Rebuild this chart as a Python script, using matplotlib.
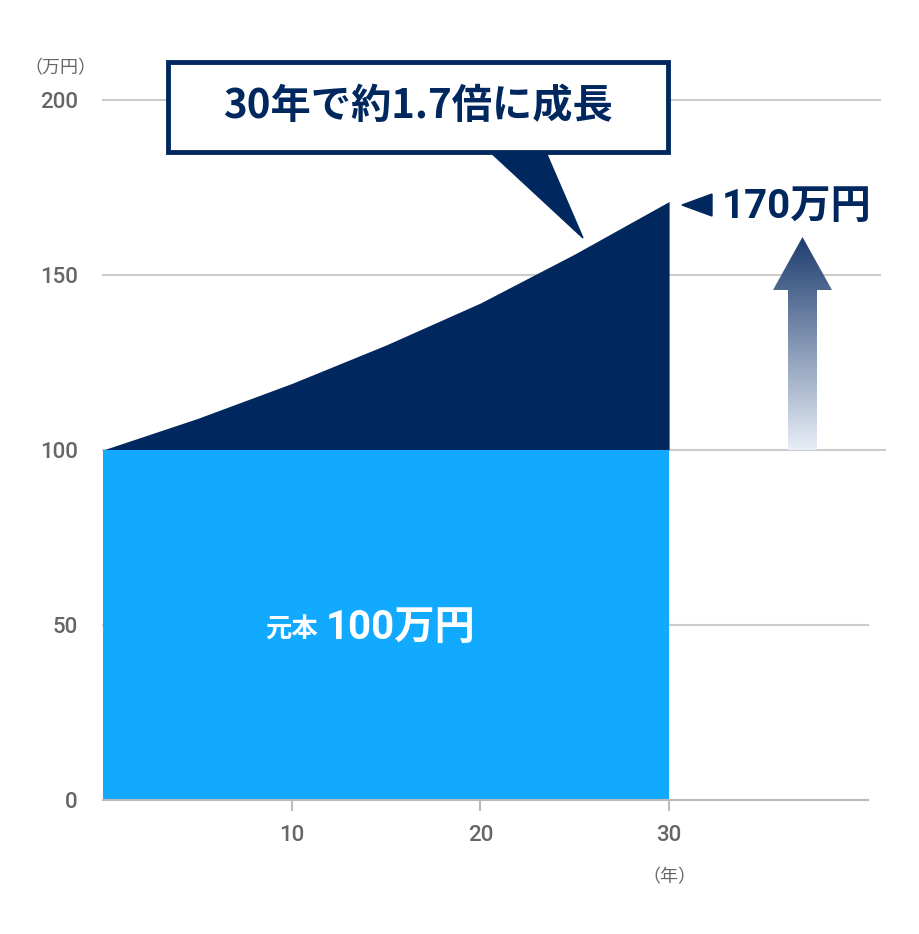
import matplotlib
matplotlib.use("Agg")
import matplotlib.pyplot as plt
import numpy as np
from matplotlib.patches import Polygon, Rectangle

years = [0, 5, 10, 15, 20, 25, 30]
values = [100, 109, 119, 130, 142, 156, 171]
principal = 100
yticks = [0, 50, 100, 150, 200]
xticks = [10, 20, 30]

NAVY = "#00285e"
BLUE = "#12aaff"
GRAY = "#666666"
JP = ["Noto Sans CJK JP", "DejaVu Sans"]
RB = ["Roboto", "Noto Sans CJK JP", "DejaVu Sans"]

fig = plt.figure(figsize=(9.2, 9.34), dpi=100)
ax = fig.add_axes([103/920, 134/934, 765/920, 735/934])
ax.set_xlim(0, 765/18.87)
ax.set_ylim(0, 210)

def d(px, py):
    return ((px-103)/18.87, (800-py)/3.5)

for y in yticks[1:]:
    xmax = 885 if y == 100 else (880 if y != 50 else 868)
    ax.plot([0, d(xmax, 0)[0]], [y, y], color="#cccccc", lw=1.5, zorder=0, clip_on=False)

ax.fill_between(years, principal, values, color=NAVY, lw=0, zorder=2)
ax.fill_between([years[0], years[-1]], 0, principal, color=BLUE, lw=0, zorder=2)

for s in ["top", "right", "left"]:
    ax.spines[s].set_visible(False)
ax.spines["bottom"].set_color("#bbbbbb")
ax.spines["bottom"].set_linewidth(1.5)
ax.set_yticks(yticks)
ax.set_xticks(xticks)
ax.tick_params(axis="y", length=0, pad=18, labelsize=16, labelcolor=GRAY)
ax.tick_params(axis="x", length=8, width=1.5, color="#bbbbbb", pad=10, labelsize=16, labelcolor=GRAY)
for t in ax.get_xticklabels() + ax.get_yticklabels():
    t.set_family(RB); t.set_fontweight("medium")

ax.text(*d(60, 68), "（万円）", family=JP, fontsize=13, color=GRAY, ha="center", va="center")
ax.text(*d(669, 877), "（年）", family=JP, fontsize=13, color=GRAY, ha="center", va="center")

# callout
ax.add_patch(Polygon([d(488, 150), d(545, 150), d(583, 238)], closed=True, color=NAVY, zorder=5, clip_on=False))
x0, y0 = d(168, 152); x1, y1 = d(668, 62)
ax.add_patch(Rectangle((x0, y0), x1-x0, y1-y0, facecolor="white", edgecolor=NAVY, lw=3.5, zorder=6, clip_on=False))
ax.text(*d(418, 106), "30年で約1.7倍に成長", family=JP, fontsize=29, fontweight="bold",
        color=NAVY, ha="center", va="center", zorder=7)

# 170万円 label
ax.add_patch(Polygon([d(682, 205), d(712, 194), d(712, 216)], closed=True, color=NAVY, clip_on=False))
ax.text(*d(722, 207), "170万円", family=RB, fontsize=29, fontweight="bold", color=NAVY,
        ha="left", va="center")

# gradient arrow
arrow = Polygon([d(788, 450), d(817, 450), d(817, 290), d(832, 290), d(802.5, 237),
                 d(773, 290), d(788, 290)], closed=True, facecolor="none", edgecolor="none",
                transform=ax.transData)
ax.add_patch(arrow)
grad = np.linspace(0, 1, 256).reshape(-1, 1)
from matplotlib.colors import LinearSegmentedColormap
cm = LinearSegmentedColormap.from_list("g", ["#e8eef6", "#1e3d70"])
xa0, ya0 = d(773, 450); xa1, ya1 = d(832, 237)
im = ax.imshow(grad, cmap=cm, extent=[xa0, xa1, ya0, ya1], origin="lower", aspect="auto", zorder=3)
im.set_clip_path(arrow)
ax.set_xlim(0, 765/18.87); ax.set_ylim(0, 210)

# principal label
ax.text(*d(318, 630), "元本", family=JP, fontsize=19, fontweight="bold", color="white", ha="right", va="center", zorder=4)
ax.text(*d(326, 628), "100万円", family=RB, fontsize=29, fontweight="bold", color="white", ha="left", va="center", zorder=4)

fig.savefig("out.png", dpi=100)
